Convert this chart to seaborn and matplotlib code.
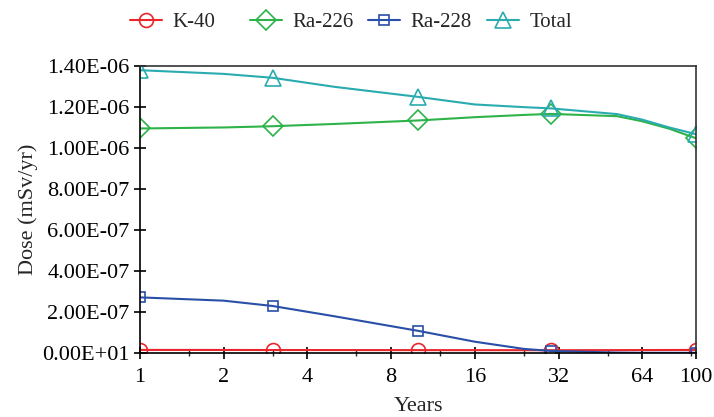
import matplotlib
matplotlib.use("Agg")
import matplotlib.pyplot as plt
from matplotlib.lines import Line2D
import seaborn as sns
import pandas as pd

# marker points
years = [1, 3, 10, 30, 100]
k40 = [1.6e-8, 1.55e-8, 1.5e-8, 1.45e-8, 1.6e-8]
ra226 = [1.095e-6, 1.106e-6, 1.134e-6, 1.166e-6, 1.047e-6]
ra228 = [2.72e-7, 2.30e-7, 1.09e-7, 1.1e-8, 2e-9]
total = [1.379e-6, 1.342e-6, 1.249e-6, 1.193e-6, 1.067e-6]

# points
curve_years = [1, 2, 3, 5, 10, 16, 24, 30, 52, 64, 80, 100]
k40_curve = [1.6e-8, 1.58e-8, 1.55e-8, 1.53e-8, 1.5e-8, 1.48e-8, 1.46e-8, 1.45e-8,
             1.5e-8, 1.53e-8, 1.56e-8, 1.6e-8]
ra226_curve = [1.095e-6, 1.100e-6, 1.106e-6, 1.117e-6, 1.134e-6, 1.150e-6, 1.161e-6,
               1.166e-6, 1.155e-6, 1.130e-6, 1.094e-6, 1.047e-6]
ra228_curve = [2.72e-7, 2.56e-7, 2.30e-7, 1.80e-7, 1.09e-7, 5.6e-8, 2.1e-8,
               1.1e-8, 3e-9, 2e-9, 2e-9, 2e-9]
total_curve = [1.379e-6, 1.361e-6, 1.342e-6, 1.298e-6, 1.249e-6, 1.212e-6, 1.199e-6,
               1.193e-6, 1.165e-6, 1.138e-6, 1.100e-6, 1.067e-6]

names = ["K-40", "Ra-226", "Ra-228", "Total"]
colors = ["#e8262b", "#2db34a", "#2a4fa8", "#2aabb0"]
markers = ["o", "D", "s", "^"]
msizes = [10, 10, 7.5, 11]

xticks = [1, 2, 4, 8, 16, 32, 64, 100]
xminor = [1.5, 3, 6, 12, 24, 48, 96]
yticks = [0, 2e-7, 4e-7, 6e-7, 8e-7, 1.0e-6, 1.2e-6, 1.4e-6]
ylabels = ["0.00E+01", "2.00E-07", "4.00E-07", "6.00E-07", "8.00E-07",
           "1.00E-06", "1.20E-06", "1.40E-06"]

sns.set_style("ticks")
plt.rcParams["font.family"] = ["Liberation Serif", "DejaVu Serif"]
plt.rcParams["font.size"] = 16

fig = plt.figure(figsize=(7.14, 4.17), dpi=100)
ax = fig.add_axes([0.196, 0.153, 0.779, 0.689])

curves = [k40_curve, ra226_curve, ra228_curve, total_curve]
points = [k40, ra226, ra228, total]
handles = []
for name, c, m, ms, cv, pt in zip(names, colors, markers, msizes, curves, points):
    df_line = pd.DataFrame({"x": curve_years, "y": cv})
    sns.lineplot(data=df_line, x="x", y="y", ax=ax, color=c, linewidth=1.5)
    ax.plot(years, pt, linestyle="none", marker=m, markersize=ms, clip_on=True,
            markerfacecolor="none", markeredgecolor=c, markeredgewidth=1.2)
    handles.append(Line2D([], [], color=c, linewidth=1.5, marker=m, markersize=ms,
                          markerfacecolor="none", markeredgecolor=c,
                          markeredgewidth=1.2, label=name))

ax.set_xscale("log", base=2)
ax.set_xlim(1, 100)
ax.set_ylim(0, 1.4e-6)
ax.set_xticks(xticks)
ax.set_xticklabels([str(t) for t in xticks])
ax.set_xticks(xminor, minor=True)
ax.set_xticklabels([], minor=True)
ax.set_yticks(yticks)
ax.set_yticklabels(ylabels)

ax.tick_params(axis="both", which="major", direction="inout", length=8, width=1.2,
               labelsize=16, colors="black")
ax.tick_params(axis="x", which="minor", direction="inout", length=5, width=1.0)
ax.tick_params(axis="x", pad=7)
for s in ax.spines.values():
    s.set_visible(True)
    s.set_linewidth(1.2)
    s.set_color("black")
for s in ["top", "right"]:
    ax.spines[s].set_color("#333333")

ax.set_xlabel("Years", fontsize=16, labelpad=7)
ax.set_ylabel("Dose (mSv/yr)", fontsize=16, labelpad=3)

# legend entries sit in equal-width slots, like the original
slot_x = [130, 250, 368, 487]
for h, sx in zip(handles, slot_x):
    fig.legend(handles=[h], loc="center left", bbox_to_anchor=(sx / 714, 1 - 22 / 417),
               frameon=False, fontsize=15, handlelength=1.55, handletextpad=0.48,
               borderpad=0, borderaxespad=0)

fig.savefig("out.png", dpi=100)
